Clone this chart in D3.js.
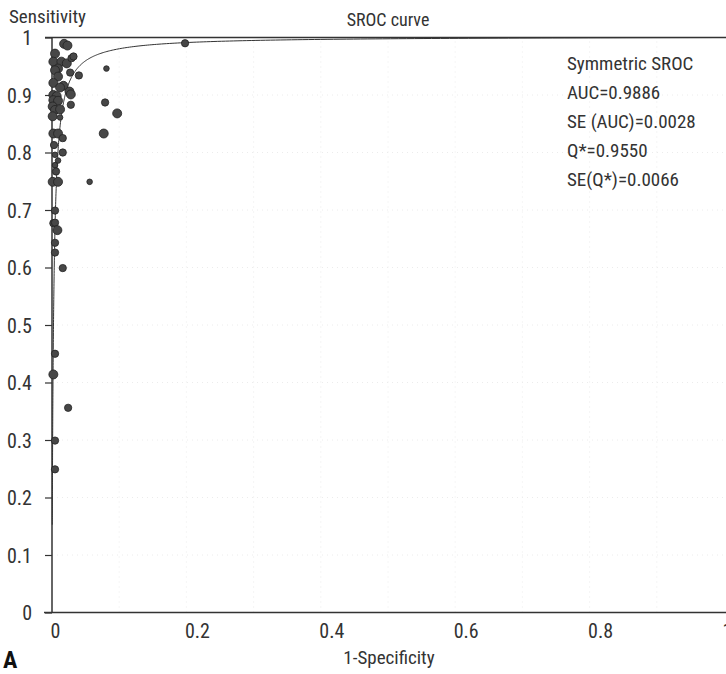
<!DOCTYPE html>
<html>
<head>
<meta charset="utf-8">
<script src="https://cdn.jsdelivr.net/npm/d3@7"></script>
<style>
  html, body { margin: 0; padding: 0; background: #fff; }
  svg { display: block; }
  text { font-family: "Liberation Sans Narrow", "Roboto Condensed", "DejaVu Sans Condensed", "Arial Narrow", sans-serif; fill: #333; }
</style>
</head>
<body>
<svg id="chart" width="726" height="674"></svg>
<script>
// Study estimates: false positive rate (1-specificity), sensitivity, relative weight
const fpr = [0.018, 0.023, 0.198, 0.0045, 0.002, 0.014, 0.022, 0.029, 0.032, 0.009,
             0.0045, 0.027, 0.040, 0.081, 0.009, 0.002, 0.017, 0.012, 0.026, 0.028,
             0.002, 0.007, 0.002, 0.009, 0.028, 0.079, 0.001, 0.0045, 0.012, 0.001,
             0.012, 0.097, 0.002, 0.009, 0.077, 0.016, 0.003, 0.016, 0.0045, 0.009,
             0.0045, 0.006, 0.001, 0.009, 0.056, 0.0045, 0.002, 0.0045, 0.008, 0.0045,
             0.0045, 0.016, 0.0045, 0.002, 0.024, 0.0045, 0.0045];
const sens = [0.989, 0.986, 0.990, 0.972, 0.958, 0.958, 0.955, 0.964, 0.967, 0.946,
              0.943, 0.939, 0.934, 0.946, 0.932, 0.921, 0.916, 0.913, 0.906, 0.901,
              0.900, 0.898, 0.891, 0.890, 0.883, 0.887, 0.880, 0.874, 0.875, 0.863,
              0.861, 0.868, 0.833, 0.833, 0.833, 0.825, 0.813, 0.800, 0.796, 0.786,
              0.778, 0.767, 0.749, 0.749, 0.749, 0.699, 0.677, 0.678, 0.665, 0.643,
              0.626, 0.599, 0.450, 0.414, 0.356, 0.299, 0.249];
const weight = [3, 3, 2, 3, 3, 3, 3, 2, 2, 3,
                3, 2, 2, 1, 3, 3, 3, 3, 3, 3,
                3, 3, 3, 3, 2, 2, 3, 3, 3, 3,
                1, 3, 3, 3, 3, 2, 2, 2, 1, 1,
                1, 2, 3, 3, 1, 2, 2, 2, 3, 2,
                2, 2, 2, 3, 2, 2, 2];

// Axis ticks
const xTicks = [0, 0.2, 0.4, 0.6, 0.8, 1];
const yTicks = [0, 0.1, 0.2, 0.3, 0.4, 0.5, 0.6, 0.7, 0.8, 0.9, 1];
const gridSteps = [0.1, 0.2, 0.3, 0.4, 0.5, 0.6, 0.7, 0.8, 0.9];

// Summary statistics of the symmetric SROC model
const statsLines = ["Symmetric SROC", "AUC=0.9886", "SE (AUC)=0.0028", "Q*=0.9550", "SE(Q*)=0.0066"];
const qStar = 0.9550;

const svg = d3.select("#chart");
const x = d3.scaleLinear().domain([0, 1]).range([52, 724]);
const y = d3.scaleLinear().domain([0, 1]).range([612.5, 37.5]);
const r = d3.scaleLinear().domain([1, 3]).range([2.8, 4.5]);

// faint dotted grid
const grid = svg.append("g");
grid.selectAll("line.h").data(gridSteps).join("line")
  .attr("x1", x(0)).attr("x2", x(1)).attr("y1", d => y(d)).attr("y2", d => y(d))
  .attr("stroke", "#ececec").attr("stroke-width", 1).attr("stroke-dasharray", "1,4");
grid.selectAll("line.v").data(gridSteps).join("line")
  .attr("y1", y(0)).attr("y2", y(1)).attr("x1", d => x(d)).attr("x2", d => x(d))
  .attr("stroke", "#ececec").attr("stroke-width", 1).attr("stroke-dasharray", "1,4");

// Symmetric SROC: logit(TPR) = D + logit(FPR), with D = 2*logit(Q*)
const D = 2 * Math.log(qStar / (1 - qStar));
const curveX = d3.range(Math.log10(0.0004), 0.0001, 0.01).map(e => Math.pow(10, e));
const curvePts = curveX.map(f => [f, 1 / (1 + Math.exp(-D) * (1 - f) / f)]);
svg.append("path")
  .attr("d", d3.line().x(d => x(d[0])).y(d => y(d[1]))(curvePts))
  .attr("fill", "none").attr("stroke", "#333").attr("stroke-width", 1);

// y axis: ticks on the left, line and labels
const yAxis = d3.axisLeft(y).tickValues(yTicks).tickSize(7).tickFormat(d3.format("~g"));
const gy = svg.append("g").attr("transform", `translate(${x(0)},0)`).call(yAxis);
gy.select(".domain").attr("stroke", "#333").attr("stroke-width", 1.5).attr("d", `M0,${y(0)}V${y(1)}`);
gy.selectAll(".tick line").attr("stroke", "#333").attr("stroke-width", 1.2);
gy.selectAll(".tick text").attr("x", -20).attr("font-size", 20).attr("fill", "#333").attr("dy", "0.35em");

// x axis: labels start at each tick position
const xAxis = d3.axisBottom(x).tickValues(xTicks).tickSize(0).tickFormat(d3.format("~g"));
const gx = svg.append("g").attr("transform", `translate(0,${y(0)})`).call(xAxis);
gx.select(".domain").attr("stroke", "#333").attr("stroke-width", 1.5).attr("d", `M${x(0) - 8},0H726`);
gx.selectAll(".tick text").attr("text-anchor", "start").attr("x", -2).attr("y", 11)
  .attr("font-size", 20).attr("fill", "#333").attr("dy", "0.71em");

// top border at sensitivity = 1
svg.append("line").attr("x1", x(0) - 7).attr("x2", 726).attr("y1", y(1)).attr("y2", y(1))
  .attr("stroke", "#333").attr("stroke-width", 1.5);

// study points
svg.append("g").selectAll("circle").data(fpr.map((f, i) => ({ f, s: sens[i], w: weight[i] })))
  .join("circle")
  .attr("cx", d => x(d.f)).attr("cy", d => y(d.s)).attr("r", d => r(d.w))
  .attr("fill", "#474747").attr("stroke", "#222").attr("stroke-width", 0.8);

// titles
svg.append("text").attr("x", 9).attr("y", 23).attr("font-size", 19).text("Sensitivity");
svg.append("text").attr("x", 388).attr("y", 26).attr("font-size", 18).attr("text-anchor", "middle").text("SROC curve");
svg.append("text").attr("x", 389).attr("y", 664).attr("font-size", 19).attr("text-anchor", "middle").text("1-Specificity");
svg.append("text").attr("x", 3).attr("y", 668).attr("font-size", 24).attr("font-weight", "bold")
  .style("fill", "#111").text("A");

// model statistics block
svg.append("g").selectAll("text").data(statsLines).join("text")
  .attr("x", 567).attr("y", (d, i) => 70 + i * 29).attr("font-size", 19).text(d => d);
</script>
</body>
</html>
